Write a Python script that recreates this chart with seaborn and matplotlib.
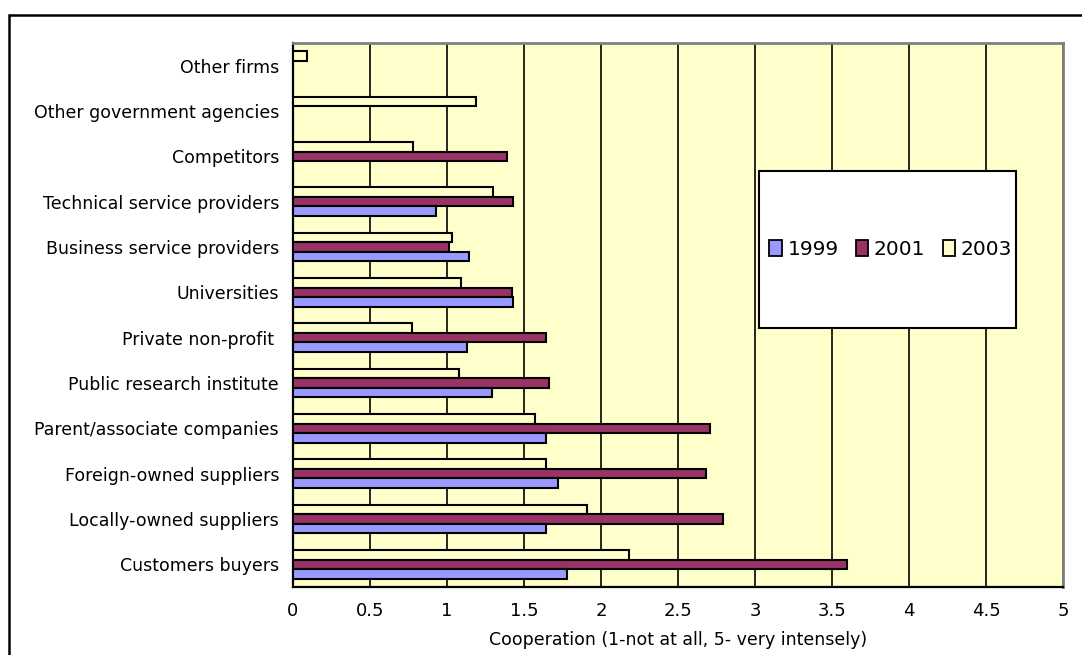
import matplotlib
matplotlib.use("Agg")
import matplotlib.pyplot as plt
import seaborn as sns
import pandas as pd
import numpy as np
from matplotlib.patches import Rectangle, Patch

categories = ["Other firms", "Other government agencies", "Competitors",
              "Technical service providers", "Business service providers",
              "Universities", "Private non-profit ", "Public research institute",
              "Parent/associate companies", "Foreign-owned suppliers",
              "Locally-owned suppliers", "Customers buyers"]
v1999 = [np.nan, np.nan, np.nan, 0.93, 1.14, 1.43, 1.13, 1.29, 1.64, 1.72, 1.64, 1.78]
v2001 = [np.nan, np.nan, 1.39, 1.43, 1.01, 1.42, 1.64, 1.66, 2.71, 2.68, 2.79, 3.60]
v2003 = [0.09, 1.19, 0.78, 1.30, 1.03, 1.09, 0.77, 1.08, 1.57, 1.64, 1.91, 2.18]
years = ["1999", "2001", "2003"]
xtick_vals = [0, 0.5, 1, 1.5, 2, 2.5, 3, 3.5, 4, 4.5, 5]
xtick_labels = ["0", "0.5", "1", "1.5", "2", "2.5", "3", "3.5", "4", "4.5", "5"]
xlabel = "Cooperation (1-not at all, 5- very intensely)"

colors = {"1999": "#9999FF", "2001": "#993366", "2003": "#FFFFCC"}

rows = []
for yr, vals in zip(years, [v1999, v2001, v2003]):
    for c, v in zip(categories, vals):
        rows.append({"cat": c, "year": yr, "val": v})
df = pd.DataFrame(rows).dropna()

sns.set_style("white")
plt.rcParams["font.family"] = ["DejaVu Sans"]
for k in ["text.color", "axes.labelcolor", "xtick.color", "ytick.color"]:
    plt.rcParams[k] = "black"

W, H = 1082, 655
fig = plt.figure(figsize=(W / 100, H / 100), dpi=100)
L, R, T, B = 293, 1063, 43, 587
ax = fig.add_axes([L / W, 1 - B / H, (R - L) / W, (B - T) / H])
ax.set_facecolor("#FFFFCC")

sns.barplot(data=df, y="cat", x="val", hue="year", order=categories,
            hue_order=["2003", "2001", "1999"], palette=colors, orient="h",
            width=0.63, edgecolor="black", linewidth=1.5, saturation=1,
            legend=False, errorbar=None, ax=ax, zorder=3)

ax.set_xlim(0, 5)
ax.set_ylim(len(categories) - 0.5, -0.5)
ax.set_xticks(xtick_vals)
ax.set_xticklabels(xtick_labels, fontsize=13)
ax.xaxis.grid(True, color="black", linewidth=1.2, zorder=1)
ax.yaxis.grid(False)
ax.set_axisbelow(True)

ax.set_yticks(range(len(categories)))
ax.set_yticklabels(categories, fontsize=12.5)
ax.set_yticks(np.arange(-0.5, len(categories), 1.0), minor=True)
ax.tick_params(axis="y", which="major", length=0, pad=10)
ax.tick_params(axis="y", which="minor", length=6, width=1.4, color="black", direction="out")
ax.tick_params(axis="x", which="major", length=6, width=1.4, color="black", direction="out", pad=5)
ax.set_ylabel("")
ax.set_xlabel(xlabel, fontsize=12.5, labelpad=8)

for s in ["left", "bottom"]:
    ax.spines[s].set_color("black")
    ax.spines[s].set_linewidth(1.6)
for s in ["top", "right"]:
    ax.spines[s].set_color("#808080")
    ax.spines[s].set_linewidth(2.0)

# legend box
lx0, ly0, lx1, ly1 = 759, 171, 1016, 328
ax.add_patch(Rectangle((lx0 / W, 1 - ly1 / H), (lx1 - lx0) / W, (ly1 - ly0) / H,
                       transform=fig.transFigure, facecolor="white", edgecolor="black",
                       linewidth=1.5, zorder=10, clip_on=False))
handles = [Patch(facecolor=colors[y], edgecolor="black", linewidth=1.3) for y in years]
leg = ax.legend(handles, years, ncol=3, frameon=False, loc="center",
                bbox_to_anchor=((lx0 + lx1) / 2 / W + 0.003, 1 - (ly0 + ly1) / 2 / H),
                bbox_transform=fig.transFigure, fontsize=14.5,
                handlelength=0.6, handleheight=0.85, handletextpad=0.3,
                columnspacing=0.85, borderaxespad=0)
leg.set_zorder(11)

# outer chart frame
fig.add_artist(Rectangle((8.5 / W, -0.2), 2, 1.2 - 14.5 / H, transform=fig.transFigure,
                         fill=False, edgecolor="black", linewidth=1.8))

fig.savefig("out.png", dpi=100)
